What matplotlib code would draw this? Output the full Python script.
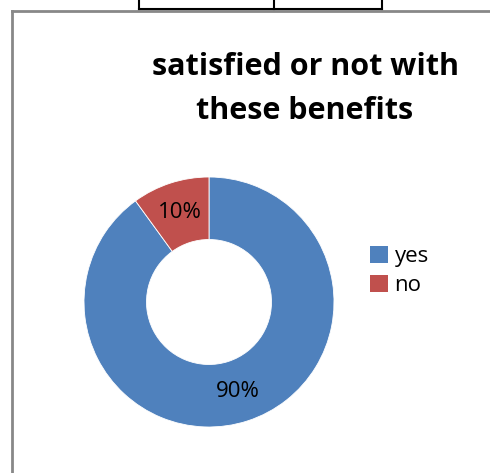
import matplotlib.pyplot as plt
from matplotlib.lines import Line2D
from matplotlib.patches import Patch

labels = ["yes", "no"]
shares = [90, 10]
colors = ["#4F81BD", "#C0504D"]
title = "satisfied or not with\nthese benefits"

plt.rcParams["font.family"] = ["Open Sans", "DejaVu Sans"]

W, H = 490, 473
fig = plt.figure(figsize=(W / 100, H / 100), dpi=100)

# donut: centre (209, 302) px, outer radius 125 px
cx, cy, r = 209, 302, 125
ax = fig.add_axes([(cx - r) / W, (H - cy - r) / H, 2 * r / W, 2 * r / H])
wedges, texts, autotexts = ax.pie(
    shares, colors=colors, startangle=90, counterclock=False,
    autopct="%d%%", pctdistance=0.75,
    wedgeprops=dict(width=0.5, edgecolor="white", linewidth=0.6),
    textprops=dict(fontsize=16, color="black"))
ax.set_xlim(-1, 1)
ax.set_ylim(-1, 1)

fig.text(305 / W, 1 - 89 / H, title, ha="center", va="center",
         fontsize=22, fontweight="bold", linespacing=1.65)

handles = [Patch(facecolor=c, edgecolor="none") for c in colors]
fig.legend(handles, labels, loc="upper left",
           bbox_to_anchor=(359 / W, 1 - 235 / H), frameon=False,
           fontsize=16, handlelength=0.8, handleheight=0.8,
           handletextpad=0.3, labelspacing=0.35, borderpad=0)

# chart frame (left and top edges) and the table stub above it
gray = "#888888"
fig.add_artist(Line2D([12 / W, 12 / W], [0, 1 - 11 / H], color=gray, lw=2))
fig.add_artist(Line2D([12 / W, 1], [1 - 11 / H, 1 - 11 / H], color=gray, lw=2))
for x in (139, 274, 382):
    fig.add_artist(Line2D([x / W, x / W], [1 - 9 / H, 1], color="black", lw=1.5))
fig.add_artist(Line2D([139 / W, 382 / W], [1 - 9 / H, 1 - 9 / H], color="black", lw=1.5))

fig.savefig("out.png", dpi=100)
